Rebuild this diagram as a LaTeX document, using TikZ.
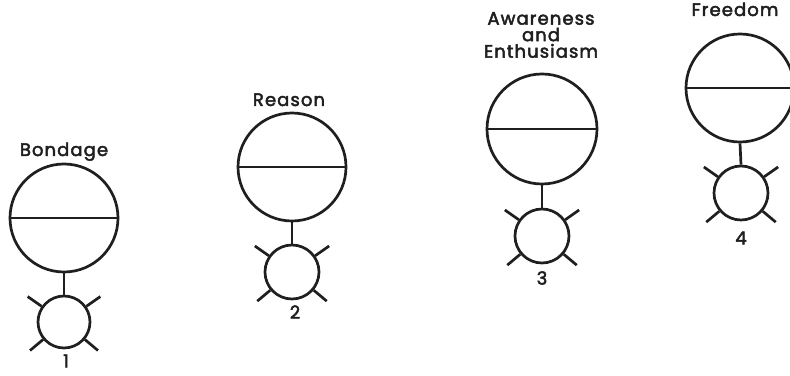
\documentclass[tikz,border=0pt]{standalone}
\usepackage{fontspec}
\setmainfont{Poppins}[FakeBold=2.6, LetterSpace=6]
\begin{document}
\begin{tikzpicture}[x=1pt,y=1pt,
  ink/.style={line width=2.7pt, draw=black!88},
  bigc/.style={ink, circle, minimum size=108pt, inner sep=0pt},
  smallc/.style={ink, circle, minimum size=54pt, inner sep=0pt},
  lbl/.style={font=\fontsize{18}{16.5}\selectfont, text=black!88, inner sep=0pt, align=center},
  spike/.style={ink, line cap=butt}]
\useasboundingbox (0,0) rectangle (790,375);
% figure 1
\node[bigc] (b1) at (64,157) {};
\node[smallc, minimum size=52pt] (s1) at (64,53) {};
\draw[ink] (b1.west) -- (b1.east);
\draw[ink] (b1.south) -- (s1.north);
\foreach \a in {35,145,220,320} \draw[spike] (s1.\a) -- ++(\a:17);
\node[lbl, anchor=base] (l1) at (64,219) {Bondage};
\node[lbl] (n1) at (66,14) {1};
% figure 2
\node[bigc] (b2) at (292,208) {};
\node[smallc] (s2) at (292,103) {};
\draw[ink] (b2.west) -- (b2.east);
\draw[ink] (b2.south) -- (s2.north);
\foreach \a in {35,145,220,320} \draw[spike] (s2.\a) -- ++(\a:17);
\node[lbl, anchor=base] (l2) at (289,269) {Reason};
\node[lbl] (n2) at (295,63) {2};
% figure 3
\node[bigc, minimum size=110pt] (b3) at (542,246) {};
\node[smallc] (s3) at (542,139) {};
\draw[ink] (b3.west) -- (b3.east);
\draw[ink] (b3.south) -- (s3.north);
\foreach \a in {35,145,220,320} \draw[spike] (s3.\a) -- ++(\a:17);
\node[lbl] (l3) at (541,340) {Awareness\\and\\Enthusiasm};
\node[lbl] (n3) at (542,97) {3};
% figure 4
\node[bigc] (b4) at (740,287) {};
\node[smallc] (s4) at (741,182) {};
\draw[ink] (b4.west) -- (b4.east);
\draw[ink] (b4.south) -- (s4.north);
\foreach \a in {35,145,220,320} \draw[spike] (s4.\a) -- ++(\a:17);
\node[lbl, anchor=base] (l4) at (735,359) {Freedom};
\node[lbl] (n4) at (741,137) {4};
\end{tikzpicture}
\end{document}
